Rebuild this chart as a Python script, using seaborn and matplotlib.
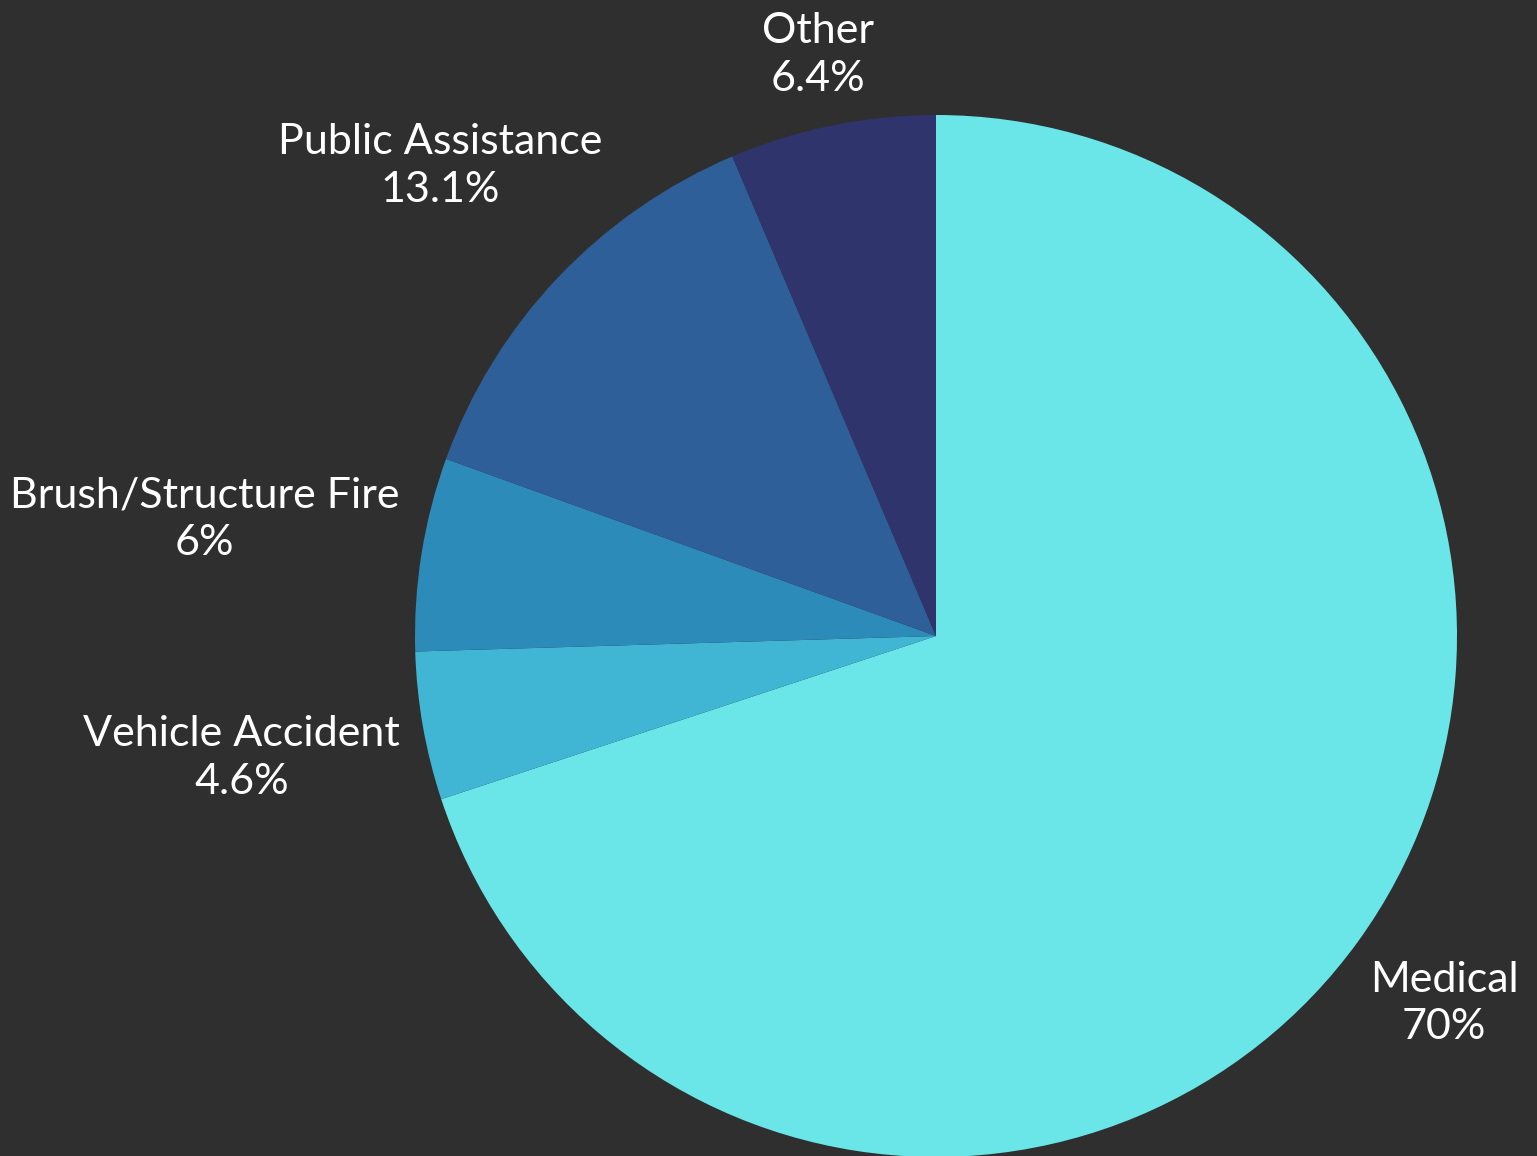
import numpy as np
import matplotlib
matplotlib.use("Agg")
import matplotlib.pyplot as plt
import seaborn as sns

categories = ["Medical", "Vehicle Accident", "Brush/Structure Fire", "Public Assistance", "Other"]
values = [70, 4.6, 6, 13.1, 6.4]
pct_labels = ["70%", "4.6%", "6%", "13.1%", "6.4%"]
colors = ["#6ae5e8", "#41b6d4", "#2d8bba", "#2e5f98", "#30346c"]

sns.set_theme(style="white")
plt.rcParams['font.family'] = ['Lato', 'DejaVu Sans']
BG = "#2f2f2f"

W, H = 1537, 1156
fig = plt.figure(figsize=(W / 100, H / 100), dpi=100, facecolor=BG)
ax = fig.add_axes([0, 0, 1, 1])
ax.set_facecolor(BG)
R_PX = 521.0
cx_px, cy_px = 936.0, 1156 - 636.0

wedges, _ = ax.pie(values, colors=colors, startangle=90, counterclock=False,
                   radius=1.0, wedgeprops=dict(linewidth=0))
ax.set_xlim(-cx_px / R_PX, (W - cx_px) / R_PX)
ax.set_ylim(-cy_px / R_PX, (H - cy_px) / R_PX)
ax.set_aspect('equal')
ax.axis('off')

fig.canvas.draw()
renderer = fig.canvas.get_renderer()
clear = 1.04
for w, name, pct in zip(wedges, categories, pct_labels):
    ang = np.deg2rad((w.theta1 + w.theta2) / 2)
    ux, uy = np.cos(ang), np.sin(ang)
    t = ax.text(0, 0, f"{name}\n{pct}", ha='center', va='center', color='white',
                fontsize=31, fontweight='normal', linespacing=1.32, multialignment='center')
    bb = t.get_window_extent(renderer).transformed(ax.transData.inverted())
    hw, hh = bb.width / 2, bb.height / 2
    lo, hi = 1.0, 3.0
    for _ in range(60):
        d = (lo + hi) / 2
        x, y = d * ux, d * uy
        nx = np.clip(0, x - hw, x + hw)
        ny = np.clip(0, y - hh, y + hh)
        if np.hypot(nx, ny) >= clear:
            hi = d
        else:
            lo = d
    t.set_position((hi * ux, hi * uy))

fig.savefig("out.png", dpi=100, facecolor=BG)
